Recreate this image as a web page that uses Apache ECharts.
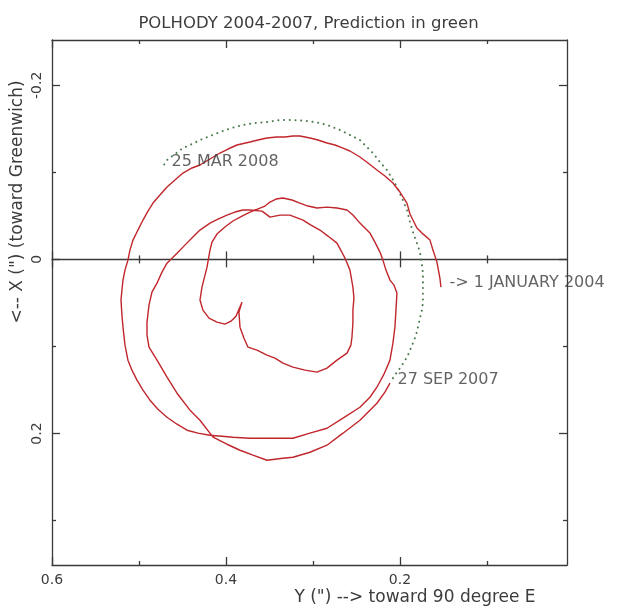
<!DOCTYPE html>
<html><head><meta charset="utf-8">
<script src="https://cdn.jsdelivr.net/npm/echarts@6/dist/echarts.min.js"></script>
<style>html,body{margin:0;padding:0;background:#fff}#c{width:617px;height:608px}</style>
</head><body><div id="c"></div>
<script>
// Horizontal value: Y ('') toward 90 degree E ; vertical value: X ('') toward Greenwich
const redY = [0.1529,0.1541,0.1575,0.1621,0.1655,0.1747,0.1805,0.1885,0.1920,0.2000,
0.2081,0.2173,0.2265,0.2368,0.2460,0.2575,0.2655,0.2747,0.2839,0.2943,
0.3035,0.3150,0.3230,0.3322,0.3414,0.3529,0.3632,0.3724,0.3874,0.3977,
0.4069,0.4184,0.4299,0.4391,0.4495,0.4587,0.4678,0.4759,0.4839,0.4897,
0.4954,0.5012,0.5069,0.5104,0.5127,0.5161,0.5184,0.5196,0.5207,0.5196,
0.5184,0.5161,0.5127,0.5081,0.5023,0.4954,0.4874,0.4782,0.4678,0.4563,
0.4448,0.4322,0.4184,0.4046,0.3920,0.3724,0.3529,0.3345,0.3230,0.3035,
0.2839,0.2655,0.2460,0.2345,0.2265,0.2184,0.2115,0.2081,0.2058,0.2046,
0.2035,0.2069,0.2115,0.2161,0.2196,0.2230,0.2288,0.2345,0.2403,0.2460,
0.2541,0.2609,0.2724,0.2839,0.2954,0.3058,0.3150,0.3242,0.3345,0.3425,
0.3494,0.3552,0.3609,
0.3724,0.3816,0.3920,0.4012,0.4104,0.4161,0.4184,0.4218,0.4276,0.4299,
0.4265,0.4195,0.4104,0.4012,0.3943,0.3885,0.3816,0.3851,0.3839,0.3793,
0.3747,0.3644,0.3529,0.3437,0.3345,0.3230,0.3092,0.2954,0.2839,0.2724,
0.2609,0.2564,0.2552,0.2541,0.2541,0.2529,0.2541,0.2575,0.2632,0.2724,
0.2828,0.2920,0.3023,0.3115,0.3265,0.3379,0.3494,0.3586,
0.3724,0.3805,0.3897,0.3989,0.4092,0.4184,0.4299,0.4380,0.4472,0.4563,
0.4678,0.4736,0.4793,0.4851,0.4885,0.4908,0.4908,0.4885,0.4793,0.4678,
0.4563,0.4414,0.4299,0.4149,0.3989,0.3839,0.3690,0.3529,0.3345,0.3230,
0.3035,0.2839,0.2655,0.2460,0.2345,0.2265,0.2173,0.2115];
const redX = [0.0318,0.0215,0.0031,-0.0107,-0.0222,-0.0302,-0.0360,-0.0521,-0.0647,-0.0774,
-0.0877,-0.0958,-0.1027,-0.1107,-0.1176,-0.1245,-0.1279,-0.1314,-0.1337,-0.1371,
-0.1394,-0.1417,-0.1417,-0.1406,-0.1406,-0.1394,-0.1371,-0.1348,-0.1314,-0.1268,
-0.1222,-0.1153,-0.1084,-0.1050,-0.0992,-0.0912,-0.0832,-0.0740,-0.0647,-0.0555,
-0.0452,-0.0337,-0.0222,-0.0107,0.0008,0.0123,0.0238,0.0353,0.0467,0.0640,
0.0778,0.0985,0.1157,0.1272,0.1387,0.1502,0.1617,0.1721,0.1813,0.1893,
0.1962,0.1996,0.2020,0.2031,0.2042,0.2054,0.2054,0.2054,0.2054,0.1996,
0.1939,0.1824,0.1698,0.1583,0.1468,0.1318,0.1157,0.0962,0.0778,0.0583,
0.0387,0.0295,0.0238,0.0123,0.0008,-0.0084,-0.0199,-0.0302,-0.0360,-0.0417,
-0.0509,-0.0567,-0.0590,-0.0601,-0.0590,-0.0613,-0.0647,-0.0682,-0.0705,-0.0693,
-0.0659,-0.0613,-0.0590,
-0.0544,-0.0498,-0.0441,-0.0372,-0.0291,-0.0199,-0.0107,0.0089,0.0318,0.0467,
0.0583,0.0675,0.0720,0.0744,0.0709,0.0652,0.0491,0.0606,0.0778,0.0905,
0.1008,0.1043,0.1100,0.1134,0.1192,0.1238,0.1272,0.1295,0.1249,0.1157,
0.1077,0.0985,0.0893,0.0732,0.0583,0.0445,0.0318,0.0123,-0.0015,-0.0187,
-0.0268,-0.0337,-0.0394,-0.0452,-0.0509,-0.0509,-0.0486,-0.0555,
-0.0567,-0.0567,-0.0544,-0.0509,-0.0463,-0.0417,-0.0337,-0.0256,-0.0164,-0.0072,
0.0043,0.0146,0.0273,0.0376,0.0525,0.0720,0.0870,0.1008,0.1157,0.1353,
0.1537,0.1732,0.1847,0.2042,0.2123,0.2192,0.2249,0.2307,0.2284,0.2272,
0.2215,0.2134,0.1996,0.1847,0.1732,0.1652,0.1525,0.1422];
const greenY = [0.2081,0.2035,0.2000,0.1954,0.1908,0.1851,0.1816,0.1793,0.1770,0.1747,
0.1736,0.1736,0.1736,0.1736,0.1747,0.1759,0.1770,0.1805,0.1851,0.1885,
0.1920,0.1977,0.2035,0.2092,0.2150,0.2230,0.2311,0.2380,0.2460,0.2575,
0.2690,0.2805,0.2920,0.3069,0.3230,0.3379,0.3529,0.3667,0.3805,0.3931,
0.4069,0.4184,0.4299,0.4391,0.4495,0.4587,0.4678,0.4736];
const greenX = [0.1364,0.1295,0.1249,0.1180,0.1100,0.0962,0.0870,0.0778,0.0675,0.0583,
0.0491,0.0387,0.0273,0.0157,0.0066,-0.0015,-0.0084,-0.0187,-0.0314,-0.0429,
-0.0567,-0.0705,-0.0832,-0.0935,-0.1027,-0.1118,-0.1222,-0.1291,-0.1371,-0.1429,
-0.1486,-0.1532,-0.1567,-0.1590,-0.1601,-0.1601,-0.1578,-0.1567,-0.1544,-0.1510,
-0.1463,-0.1417,-0.1371,-0.1325,-0.1279,-0.1210,-0.1141,-0.1050];
const annotations = ['-> 1 JANUARY 2004', '27 SEP 2007', '25 MAR 2008'];
const xMajorTicks = [0.6, 0.4, 0.2];
const xMinorTicks = [0.5, 0.3, 0.1];
const yMajorTicks = [-0.2, 0, 0.2];
const yMinorTicks = [-0.1, 0.1, 0.3];
const titleText = 'POLHODY 2004-2007, Prediction in green';
const xName = 'Y (") --> toward 90 degree E';
const yName = '<-- X (") (toward Greenwich)';

const XMIN = 0.008, XMAX = 0.6, YMIN = -0.252, YMAX = 0.351;
const FONT = 'DejaVu Sans';
const TXT = '#3c3c3c';
const LINE = '#3a3a3a';

function xAx(opts) {
  return Object.assign({
    type: 'value', min: XMIN, max: XMAX, inverse: true, position: 'bottom',
    axisLabel: { show: false }, splitLine: { show: false }
  }, opts);
}
function yAx(opts) {
  return Object.assign({
    type: 'value', min: YMIN, max: YMAX, inverse: true, position: 'left',
    axisLabel: { show: false }, splitLine: { show: false }
  }, opts);
}
const tk = (vals, len, inside) => ({ show: true, inside: inside, length: len, customValues: vals, lineStyle: { color: LINE, width: 1.3 } });
const ln = (show, onZero) => ({ show: show, onZero: onZero, onZeroAxisIndex: 0, lineStyle: { color: LINE, width: 1.3 } });

const chart = echarts.init(document.getElementById('c'));
chart.setOption({
  animation: false,
  backgroundColor: '#fff',
  title: { text: titleText, left: 'center', top: 10,
    textStyle: { fontFamily: FONT, fontSize: 16.5, fontWeight: 'normal', color: TXT } },
  grid: { left: 52, right: 50, top: 40, bottom: 43 },
  xAxis: [
    xAx({ position: 'bottom', axisLine: ln(true, false), axisTick: tk(xMajorTicks, 8, true),
      axisLabel: { show: true, customValues: xMajorTicks, margin: 8, fontFamily: FONT, fontSize: 14, color: TXT } }),
    xAx({ position: 'bottom', axisLine: ln(false, false), axisTick: tk(xMinorTicks, 4, true) }),
    xAx({ position: 'top', axisLine: ln(true, false), axisTick: tk(xMajorTicks, 8, true) }),
    xAx({ position: 'top', axisLine: ln(false, false), axisTick: tk(xMinorTicks, 4, true) }),
    xAx({ position: 'bottom', axisLine: ln(true, true), axisTick: tk(xMajorTicks, 8, true) }),
    xAx({ position: 'bottom', axisLine: ln(false, true), axisTick: tk(xMajorTicks, 8, false) }),
    xAx({ position: 'bottom', axisLine: ln(false, true), axisTick: tk(xMinorTicks, 4, true) }),
    xAx({ position: 'bottom', axisLine: ln(false, true), axisTick: tk(xMinorTicks, 4, false) })
  ],
  yAxis: [
    yAx({ position: 'left', axisLine: ln(true, false), axisTick: tk(yMajorTicks, 8, true),
      axisLabel: { show: true, customValues: yMajorTicks, rotate: 90, margin: 8, fontFamily: FONT, fontSize: 14, color: TXT } }),
    yAx({ position: 'left', axisLine: ln(false, false), axisTick: tk(yMinorTicks, 4, true) }),
    yAx({ position: 'right', axisLine: ln(true, false), axisTick: tk(yMajorTicks, 8, true) }),
    yAx({ position: 'right', axisLine: ln(false, false), axisTick: tk(yMinorTicks, 4, true) })
  ],
  graphic: [
    { type: 'text', x: 18, y: 202, rotation: Math.PI / 2,
      style: { text: yName, font: '17px "DejaVu Sans"', fill: TXT, textAlign: 'center', textVerticalAlign: 'middle', verticalAlign: 'middle' } },
    { type: 'text', x: 415, y: 598,
      style: { text: xName, font: '17px "DejaVu Sans"', fill: TXT, textAlign: 'center', textVerticalAlign: 'middle', verticalAlign: 'middle' } }
  ],
  series: [
    { type: 'line', name: 'observed', xAxisIndex: 0, yAxisIndex: 0, showSymbol: false, smooth: false,
      lineStyle: { color: '#c0262b', width: 1.4 }, data: redY.map((v, i) => [v, redX[i]]), z: 3 },
    { type: 'line', name: 'prediction', xAxisIndex: 0, yAxisIndex: 0, showSymbol: false,
      lineStyle: { color: '#4a7a4a', width: 2, type: [0.1, 5.6], cap: 'round' },
      data: greenY.map((v, i) => [v, greenX[i]]), z: 2 },
    { type: 'scatter', xAxisIndex: 0, yAxisIndex: 0, symbolSize: 1, clip: false,
      itemStyle: { color: 'rgba(0,0,0,0)' },
      label: { show: true, position: 'right', fontFamily: FONT, fontSize: 16, color: TXT,
        formatter: p => annotations[p.dataIndex] },
      data: [
        { value: [redY[0], redX[0]], label: { distance: 8, offset: [0, -4] } },
        { value: [redY[redY.length - 1], redX[redX.length - 1]], label: { distance: 7, offset: [0, -3] } },
        { value: [greenY[greenY.length - 1], greenX[greenX.length - 1]], label: { distance: 9, offset: [0, -6] } }
      ], z: 4 }
  ]
});
</script></body></html>
